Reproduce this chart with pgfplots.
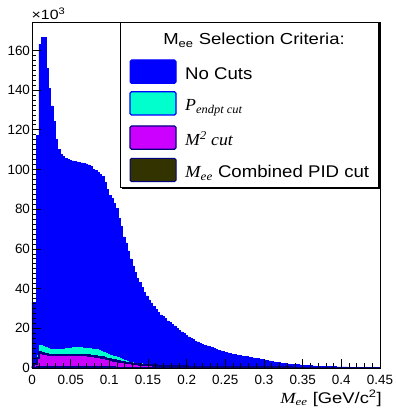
\documentclass[border=0pt]{standalone}
\usepackage{pgfplots}
\pgfplotsset{compat=1.18}
\usepackage{pgfplotstable}
\usepackage{fontspec}
\setmainfont{Liberation Sans}
\newfontfamily\serifit{Liberation Serif}
\definecolor{rblue}{RGB}{0,0,255}
\definecolor{rcyan}{RGB}{0,255,204}
\definecolor{rmag}{RGB}{204,0,255}
\definecolor{rnavy}{RGB}{0,0,128}
\definecolor{rolive}{RGB}{51,51,0}
\pgfplotstableread{
x b c m p
0.000 33 1.0 0.5 0.1
0.003 33 3.0 2.0 0.3
0.006 117 7.0 5.0 0.6
0.009 163 12.0 7.8 0.9
0.012 166.6 12.0 7.6 0.9
0.015 166.6 11.3 7.2 0.85
0.018 151 10.6 6.9 0.8
0.021 141 10.2 6.7 0.8
0.024 132 9.9 6.5 0.8
0.027 124.4 9.7 6.4 0.8
0.030 115 9.6 6.4 0.8
0.033 110 9.6 6.4 0.8
0.036 107.8 9.7 6.4 0.8
0.039 106.5 9.9 6.5 0.8
0.042 105.6 10.1 6.5 0.8
0.045 105.0 10.3 6.6 0.8
0.048 104.7 10.5 6.6 0.8
0.051 104.3 10.6 6.7 0.8
0.054 104.0 10.7 6.7 0.8
0.057 103.8 10.7 6.7 0.8
0.060 103.6 10.7 6.7 0.8
0.063 103.3 10.6 6.6 0.8
0.066 103.1 10.5 6.5 0.8
0.069 102.8 10.4 6.4 0.8
0.072 102.3 10.3 6.3 0.8
0.075 101.4 10.2 6.2 0.8
0.078 100.2 10.0 6.0 0.75
0.081 99.5 9.9 5.8 0.72
0.084 98.4 9.7 5.6 0.7
0.087 97.5 9.4 5.5 0.67
0.090 96.7 9.0 5.3 0.64
0.093 93.4 8.5 5.0 0.6
0.096 90.0 8.0 4.7 0.57
0.099 87.1 7.4 4.4 0.54
0.102 85.5 7.0 4.1 0.5
0.105 83.0 6.5 3.8 0.47
0.108 80.4 6.1 3.6 0.44
0.111 75.4 5.7 3.3 0.41
0.114 71.2 5.3 3.1 0.38
0.117 66.1 4.8 2.9 0.35
0.120 63.0 4.3 2.7 0.33
0.123 59.0 3.8 2.5 0.31
0.126 55.0 3.5 2.35 0.3
0.129 51.5 3.2 2.2 0.28
0.132 48.0 3.0 2.05 0.27
0.135 45.0 2.8 1.9 0.26
0.138 43.0 2.7 1.8 0.25
0.141 40.8 2.6 1.7 0.24
0.144 38.2 2.5 1.6 0.23
0.147 36.3 2.4 1.5 0.22
0.150 34.3 2.3 1.4 0.21
0.153 32.8 2.2 1.35 0.2
0.156 31.2 2.1 1.3 0.19
0.159 29.5 2.0 1.25 0.18
0.162 28.0 1.9 1.2 0.17
0.165 26.8 1.8 1.15 0.16
0.168 26.0 1.7 1.1 0.15
0.171 25.0 1.6 1.05 0.14
0.174 23.8 1.55 1.0 0.13
0.177 22.9 1.5 0.95 0.12
0.180 22.0 1.45 0.9 0.11
0.183 21.2 1.4 0.87 0.1
0.186 20.0 1.35 0.84 0.08
0.189 19.0 1.3 0.81 0.08
0.192 18.2 1.25 0.78 0.08
0.195 17.4 1.2 0.75 0.08
0.198 16.5 1.15 0.72 0.08
0.201 15.7 1.1 0.7 0.08
0.204 14.9 1.05 0.68 0.08
0.207 14.3 1.0 0.66 0.08
0.210 13.6 0.97 0.64 0.08
0.213 13.1 0.94 0.62 0.08
0.216 12.5 0.91 0.6 0.08
0.219 11.9 0.88 0.58 0.08
0.222 11.4 0.85 0.56 0.08
0.225 11.1 0.82 0.54 0.08
0.228 10.8 0.8 0.52 0.08
0.231 10.3 0.78 0.5 0.08
0.234 9.8 0.76 0.49 0.08
0.237 9.3 0.74 0.48 0.08
0.240 8.9 0.72 0.47 0.08
0.243 8.6 0.7 0.46 0.08
0.246 8.2 0.69 0.45 0.08
0.249 7.9 0.68 0.44 0.08
0.252 7.6 0.67 0.43 0.08
0.255 7.3 0.66 0.42 0.08
0.258 7.0 0.65 0.41 0.08
0.261 6.8 0.64 0.4 0.08
0.264 6.5 0.63 0.39 0.08
0.267 6.3 0.62 0.38 0.08
0.270 6.1 0.61 0.37 0.08
0.273 5.9 0.6 0.36 0.08
0.276 5.7 0.59 0.35 0.08
0.279 5.5 0.58 0.34 0.08
0.282 5.3 0.57 0.33 0.08
0.285 5.1 0.56 0.32 0.08
0.288 4.9 0.55 0.31 0.08
0.291 4.7 0.54 0.3 0.08
0.294 4.5 0.53 0.29 0.08
0.297 4.3 0.52 0.28 0.08
0.300 4.1 0.51 0.27 0.08
0.303 3.9 0.5 0.26 0.05
0.306 3.6 0.49 0.25 0.05
0.309 3.3 0.48 0.25 0.05
0.312 3.1 0.47 0.24 0.05
0.315 2.9 0.46 0.24 0.05
0.318 2.7 0.45 0.23 0.05
0.321 2.5 0.44 0.23 0.05
0.324 2.4 0.43 0.22 0.05
0.327 2.2 0.42 0.22 0.05
0.330 2.1 0.41 0.21 0.05
0.333 2.0 0.4 0.21 0.05
0.336 1.9 0.39 0.2 0.05
0.339 1.8 0.38 0.2 0.05
0.342 1.7 0.38 0.19 0.05
0.345 1.6 0.37 0.19 0.05
0.348 1.5 0.36 0.18 0.05
0.351 1.4 0.36 0.18 0.05
0.354 1.3 0.35 0.17 0.05
0.357 1.25 0.34 0.17 0.05
0.360 1.2 0.34 0.16 0.05
0.363 1.1 0.33 0.16 0.05
0.366 1.0 0.32 0.15 0.05
0.369 0.95 0.32 0.15 0.05
0.372 0.9 0.31 0.15 0.05
0.375 0.85 0.3 0.14 0.05
0.378 0.8 0.3 0.14 0.05
0.381 0.75 0.29 0.14 0.05
0.384 0.7 0.29 0.13 0.05
0.387 0.68 0.28 0.13 0.05
0.390 0.65 0.28 0.13 0.05
0.393 0.62 0.27 0.12 0.05
0.396 0.6 0.27 0.12 0.05
0.399 0.58 0.26 0.12 0.05
0.402 0.55 0.26 0.12 0.05
0.405 0.52 0.25 0.11 0.05
0.408 0.5 0.25 0.11 0.05
0.411 0.48 0.24 0.11 0.05
0.414 0.46 0.24 0.11 0.05
0.417 0.44 0.23 0.1 0.05
0.420 0.42 0.23 0.1 0.05
0.423 0.4 0.22 0.1 0.05
0.426 0.38 0.22 0.1 0.05
0.429 0.36 0.21 0.1 0.05
0.432 0.35 0.21 0.1 0.05
0.435 0.34 0.2 0.1 0.05
0.438 0.33 0.2 0.1 0.05
0.441 0.32 0.2 0.1 0.05
0.444 0.31 0.19 0.1 0.05
0.447 0.3 0.19 0.1 0.05
0.450 0.3 0.19 0.1 0.05
}\histdata
\begin{document}
\begin{tikzpicture}
\begin{axis}[
  scale only axis, width=348bp, height=346bp,
  xmin=0, xmax=0.45, ymin=0, ymax=174.3,
  axis on top,
  tick align=inside, tick pos=left,
  xtick={0,0.05,0.1,0.15,0.2,0.25,0.3,0.35,0.4,0.45},
  xticklabels={0,0.05,0.1,0.15,0.2,0.25,0.3,0.35,0.4,0.45},
  ytick={0,20,40,60,80,100,120,140,160},
  yticklabels={0,20,40,60,80,100,120,140,160},
  minor x tick num=4, minor y tick num=7,
  major tick length=9bp, minor tick length=4.5bp,
  tick style={black, line width=0.7bp},
  axis line style={black, line width=0.8bp},
  ticklabel style={font=\fontsize{13.5}{15}\selectfont},
  xticklabel style={yshift=-4bp},
  yticklabel style={xshift=1.5bp},
  /pgf/number format/assume math mode=true,
]
\addplot[const plot, fill=rblue, draw=rblue, line width=0.5bp] table[x=x, y=b] {\histdata} \closedcycle;
\addplot[const plot, fill=rcyan, draw=rblue, line width=1bp] table[x=x, y=c] {\histdata} \closedcycle;
\addplot[const plot, fill=rmag, draw=rnavy, line width=2.2bp] table[x=x, y=m] {\histdata} \closedcycle;
\addplot[const plot, fill=rolive, draw=rnavy, line width=1.2bp] table[x=x, y=p] {\histdata} \closedcycle;
\end{axis}
% exponent label
\node[anchor=base west, inner sep=0pt, font=\fontsize{13.5}{15}\selectfont] at (-0.5bp,348.5bp) {\scalebox{1.18}[1]{×10\textsuperscript{3}}};
% x label
\node[anchor=base east, inner sep=0pt, font=\fontsize{15.5}{17}\selectfont] at (350bp,-35bp)
  {\scalebox{1.19}[1]{{\serifit\itshape M\textsubscript{ee}} [GeV/c\textsuperscript{2}]}};
% legend
\fill[black] (90bp,179bp) rectangle (347.5bp,346bp);
\filldraw[fill=white, draw=black, line width=0.8bp] (88bp,181bp) rectangle (346bp,346bp);
\node[anchor=base, inner sep=0pt, font=\fontsize{16}{18}\selectfont] at (222bp,323.5bp) {\scalebox{1.16}[1]{M\textsubscript{ee} Selection Criteria:}};
\filldraw[fill=rblue, draw=rblue, line width=1bp, rounded corners=1.5bp] (98bp,284.7bp) rectangle (144bp,308bp);
\filldraw[fill=rcyan, draw=rblue, line width=1.3bp, rounded corners=1.5bp] (98bp,253bp) rectangle (144bp,276.3bp);
\filldraw[fill=rmag, draw=rnavy, line width=1.3bp, rounded corners=1.5bp] (98bp,218.7bp) rectangle (144bp,242bp);
\filldraw[fill=rolive, draw=rnavy, line width=1bp, rounded corners=1.5bp] (98bp,186.3bp) rectangle (144bp,209.7bp);
\node[anchor=base west, inner sep=0pt, font=\fontsize{17}{19}\selectfont] at (153bp,288.7bp) {\scalebox{1.1}[1]{No Cuts}};
\node[anchor=base west, inner sep=0pt, font=\fontsize{17}{19}\selectfont] at (153bp,257bp) {\scalebox{1.05}[1]{{\serifit\itshape P\textsubscript{endpt cut}}}};
\node[anchor=base west, inner sep=0pt, font=\fontsize{17}{19}\selectfont] at (153bp,222.7bp) {\scalebox{1.05}[1]{{\serifit\itshape M\textsuperscript{2} cut}}};
\node[anchor=base west, inner sep=0pt, font=\fontsize{17}{19}\selectfont] at (153bp,190.4bp) {\scalebox{1.1}[1]{{\serifit\itshape M\textsubscript{ee}} Combined PID cut}};
\pgfresetboundingbox
\path[use as bounding box] (-32bp,-41bp) rectangle (364bp,368bp);
\end{tikzpicture}
\end{document}
